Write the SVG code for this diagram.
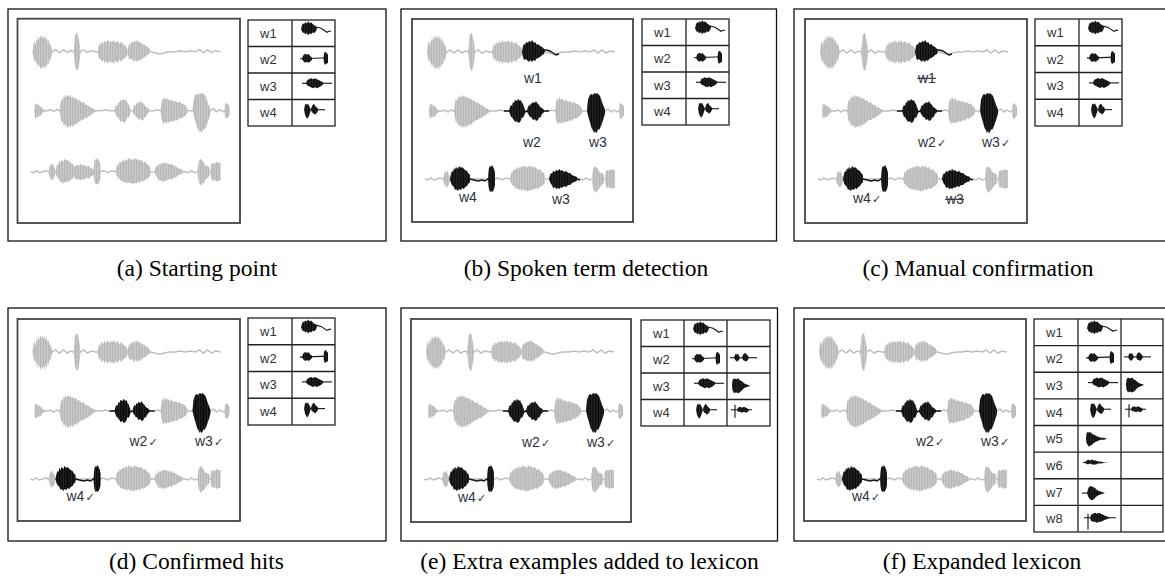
<svg xmlns="http://www.w3.org/2000/svg" xmlns:xlink="http://www.w3.org/1999/xlink" width="1165" height="576" viewBox="0 0 1165 576">
<style>
.outer{fill:none;stroke:#111;stroke-width:1.3}
.inner{fill:#fff;stroke:#444;stroke-width:1.8}
.tbl{fill:#fff;stroke:#222;stroke-width:1.3}
.tl{stroke:#222;stroke-width:1.3}
.lab{font-family:"Liberation Sans",Arial,sans-serif;font-size:13px;fill:#333}
.wl{font-family:"Liberation Sans",Arial,sans-serif;font-size:14px;fill:#2e3340}
.ck{font-family:"DejaVu Sans",sans-serif;font-size:11px}
.cap{font-family:"Liberation Serif","Times New Roman",serif;font-size:23.5px;fill:#000;text-anchor:middle}
.st{stroke:#2e3340;stroke-width:1.2}
.gl{fill:none;stroke:#bfbfbf;stroke-width:1.5}
.kl{fill:none;stroke:#141414;stroke-width:1.5}
.kl1{fill:none;stroke:#141414;stroke-width:1.1}
</style>
<defs>
<filter id="soft" x="-5%" y="-5%" width="110%" height="110%"><feGaussianBlur stdDeviation="0.45"/></filter>
<pattern id="pg" width="1.6" height="4" patternUnits="userSpaceOnUse"><rect width="1.6" height="4" fill="#cbcbcb"/><rect width="0.8" height="4" fill="#b5b5b5"/></pattern>
<pattern id="pk" width="1.6" height="4" patternUnits="userSpaceOnUse"><rect width="1.6" height="4" fill="#2c2c2c"/><rect width="0.9" height="4" fill="#050505"/></pattern>
<path id="s_r1a" d="M15,33 L16,25 17,22 18,27 19,19 20,23 21,17 22,21 23,16 24,19 25,17 26,20 27,16 28,21 29,18 30,23 31,21 32,26 33,25 34,29 35,33 34,37 33,42 32,40 31,46 30,44 29,49 28,46 27,51 26,47 25,50 24,48 23,51 22,46 21,49 20,44 19,47 18,41 17,43 16,39 Z"/>
<path id="s_r1b" d="M56,33 L57,24 57.5,17 58.5,15 59.5,14 60.5,16 61.5,21 62.5,27 63,33 62.5,40 61.5,46 60.5,51 59.5,52 58.5,50 57.5,47 57,41 Z"/>
<path id="s_r1c" d="M80,33 L81,28 82,25 83,27 84,23 86,25 87,22 89,24 90,21 92,24 93,22 95,23 96,21 98,24 100,22 102,25 104,23 106,26 108,27 110,30 110,36 108,39 106,40 104,43 102,41 100,44 98,42 96,45 95,43 93,44 92,42 90,45 89,42 87,44 86,41 84,43 83,39 82,41 81,38 Z"/>
<path id="s_w1" d="M110,33 L111,27 112,25 113,26 114,23 116,24 117,22 119,23 120,21 122,24 123,23 125,26 126,25 128,27 130,28 132,30 133,32 132,35 130,36 128,38 126,39 124,40 123,42 121,41 120,43 118,41 117,43 115,41 114,40 112,41 111,38 Z"/>
<path id="s_r2a" d="M17,90 L17.5,84 18,82 19,84 20,83 21,85 22,84 23,86 24,86 25,88 27,89 27,91 25,92 24,94 23,95 22,96 21,95 20,97 19,96 18,98 17.5,96 Z"/>
<path id="s_r2b" d="M42,90 L43,82 44,78 45,80 46,75 47,77 48,74 49,77 50,74 52,76 53,74 54,77 56,76 57,78 59,77 60,80 62,79 64,82 66,81 68,84 70,84 72,86 74,87 76,88 78,89 78,91 76,92 74,94 72,95 70,97 68,97 66,99 64,99 62,101 60,102 59,104 57,103 56,106 54,104 53,107 52,105 50,107 49,104 48,106 47,103 46,105 45,100 44,102 43,97 Z"/>
<path id="s_w2a" d="M97,90 L98,86 99,84 100,85 101,81 102,82 103,79 105,80 106,78 108,80 109,79 110,82 111,83 112,86 113,89 113,92 112,95 111,97 110,96 109,99 108,101 106,102 105,100 103,101 102,99 101,98 100,96 99,96 98,93 Z"/>
<path id="s_w2b" d="M115,90 L116,86 117,84 118,85 119,82 120,83 121,81 123,82 124,80 125,82 126,83 127,84 128,86 130,87 132,89 132,91 130,93 129,95 128,97 127,96 126,99 124,100 123,98 121,99 120,97 119,96 118,96 117,94 116,93 Z"/>
<path id="s_r2c" d="M143,90 L144,82 145,77 146,80 147,76 149,79 150,77 152,80 154,79 156,81 158,80 160,82 162,81 164,83 166,83 168,85 170,88 170,92 168,95 166,96 164,98 162,97 160,100 158,99 156,101 154,100 152,102 150,101 149,103 147,101 146,104 145,101 144,98 Z"/>
<path id="s_w3" d="M175,90 L175.5,84 176,79 177,76 178,74 179,73 181,74 182,72 184,73 185,72 187,74 188,75 189,78 190,81 191,84 192,86 193,89 193,92 192,96 191,99 190,102 189,105 188,107 187,109 186,108 185,111 184,112 183,110 182,112 181,109 180,108 179,105 178,101 177,98 176,94 Z"/>
<path id="s_r2d" d="M207,90 L207.5,84 208.5,82 210,83 211,84 212,86 212,94 211,96 210,97 208.5,98 207.5,96 Z"/>
<path id="s_r3a" d="M31,160 L32,155 33,152 34,154 35,151 36,154 37,156 38,158 38,162 37,165 36,168 35,167 34,169 33,166 32,165 Z"/>
<path id="s_r3x" d="M56,160 L57,155 59,153 61,154 63,152 65,154 67,153 69,155 71,154 73,156 75,157 77,159 77,162 75,164 73,165 71,167 69,166 67,168 65,167 63,169 61,167 59,168 57,166 Z"/>
<path id="s_w4a" d="M38,160 L39,155 40,152 41,153 42,149 43,151 44,148 46,150 47,147 49,149 50,148 52,150 53,151 55,152 56,154 58,156 58,163 56,165 55,167 53,168 52,170 50,169 49,171 47,170 46,172 44,170 43,171 42,168 41,167 40,166 39,164 Z"/>
<path id="s_w4b" d="M76,160 L76.5,153 77,149 78,147 79,148 80,146 81,148 82,150 83,154 83,166 82,170 81,172 80,173 79,172 78,173 77,170 76.5,167 Z"/>
<path id="s_r3b" d="M98,160 L99,155 100,152 101,153 102,150 104,151 105,148 107,150 108,147 110,149 111,146 113,148 114,147 116,149 117,146 119,148 120,147 122,149 124,148 126,151 128,150 130,153 132,154 133,157 133,163 132,165 130,167 128,168 126,170 124,169 122,171 120,170 119,172 117,171 116,173 114,171 113,172 111,170 110,172 108,170 107,171 105,169 104,170 102,167 101,167 100,165 99,164 Z"/>
<path id="s_w3b" d="M137,160 L138,156 139,154 140,155 141,152 143,153 144,151 146,152 147,150 149,152 150,151 152,153 154,152 156,154 158,154 160,156 162,157 165,158 165,162 162,163 160,164 158,166 156,166 154,168 152,167 150,169 149,168 147,170 146,169 144,170 143,168 141,169 140,166 139,165 138,163 Z"/>
<path id="s_r3c" d="M180,160 L180.5,154 181,150 182,148 183,147 184,149 185,148 186,151 187,152 188,154 190,154 192,156 192,164 190,166 188,168 187,170 186,172 185,171 184,174 183,173 182,172 181,169 180.5,165 Z"/>
<path id="s_r3d" d="M193,160 L193.5,155 194,152 195,151 197,152 199,150 201,151 203,151 203,169 201,169 199,170 197,168 195,169 194,167 193.5,165 Z"/>

<g id="r1g" fill="url(#pg)"><path class="gl" d="M15,33 L35,33 38,31 42,34 46,31 50,34 53,32 56,33 63,33 66,31 70,34 74,32 78,33 80,33 110,33 129,33 133,33 137,34 141,35 144,35 147,34 152,33 158,33 163,32 168,33 173,32 178,33 182,31 186,34 190,31 194,34 198,32 203,33"/><use href="#s_r1a"/><use href="#s_r1b"/><use href="#s_r1c"/><use href="#s_w1"/></g>
<g id="r1k" fill="url(#pk)"><use href="#s_w1"/><path class="kl" d="M130,31 L134,31 138,32 141,34 144,36 147,35"/></g>
<g id="r2g" transform="translate(0,2)" fill="url(#pg)"><path class="gl" d="M17,90 L30,90 33,89 36,91 39,89 42,90 78,90 84,90 88,89 92,90 137,90 140,89 143,90 175,90 193,90 196,88 199,91 202,89 205,91 207,90 212,90"/><use href="#s_r2a"/><use href="#s_r2b"/><use href="#s_w2a"/><use href="#s_w2b"/><use href="#s_r2c"/><use href="#s_w3"/><use href="#s_r2d"/></g>
<g id="r2k2" transform="translate(0,2)" fill="url(#pk)"><path class="kl" d="M92,90 L97,90 113,91 115,90 132,90 137,90"/><use href="#s_w2a"/><use href="#s_w2b"/></g>
<g id="r2k3" transform="translate(0,2)" fill="url(#pk)"><use href="#s_w3"/></g>
<g id="r3g" fill="url(#pg)"><path class="gl" d="M13,160 L16,161 19,159 22,161 25,160 28,159 31,160 83,160 86,159 90,161 94,159 98,160 137,160 168,160 171,161 174,159 177,161 180,160 203,160"/><use href="#s_r3a"/><use href="#s_w4a"/><use href="#s_w4b"/><use href="#s_r3b"/><use href="#s_w3b"/><use href="#s_r3c"/><use href="#s_r3d"/></g>
<g id="r3k4" fill="url(#pk)"><path class="kl" d="M38,160 L58,160 62,161 66,162 70,161 73,162 76,160 83,160"/><use href="#s_w4a"/><use href="#s_w4b"/></g>
<g id="r3k3" fill="url(#pk)"><path class="kl" d="M137,160 L165,160 168,161"/><use href="#s_w3b"/></g>

<g id="lw1" fill="url(#pk)"><path d="M9,-4 L10,-8 11,-10 12,-9 13,-11 15,-10 16,-12 18,-10 19,-11 21,-9 22,-8 24,-7 25,-5 24,-2 22,0 21,-1 19,1 18,0 16,2 15,0 13,1 12,-1 11,0 10,-2 Z"/><path class="kl1" d="M21,-6 L25,-6 29,-5 32,-3 35,-1 37,-2 39,-2"/></g>
<g id="lw2" fill="url(#pk)"><path class="kl1" d="M8,-1 L36,-2"/><path d="M10,-1 L11,-4 12,-5 13,-6 15,-5 16,-6 18,-4 20,-2 20,0 18,2 16,3 15,2 13,3 12,2 11,1 Z"/><path d="M31.5,-1 L32,-6 33,-8 34.5,-7 36,-5 36,3 34.5,4 33,5 32,3 Z"/></g>
<g id="lw3" fill="url(#pk)"><path class="kl1" d="M10,-3 L40,-3"/><path d="M14,-3 L15,-6 17,-7 19,-8 21,-7 23,-8 25,-7 27,-6 29,-5 31,-4 31,-2 29,0 27,1 25,2 23,1 21,2 19,1 17,0 15,-1 Z"/></g>
<g id="lw4" fill="url(#pk)"><path d="M12,-3 L13,-8 14,-9 15,-8 16,-9 17,-7 18,-5 19,-3 18,0 17,3 16,5 15,6 14,4 13,2 Z"/><path d="M19,-3 L20,-7 21,-8 22,-9 23,-7 24,-6 25,-5 26,-4 26,-2 25,0 24,1 23,2 22,1 21,0 20,0 Z"/><path class="kl1" d="M25,-3 L33,-3"/></g>
<g id="lw2b" fill="url(#pk)"><path class="kl1" d="M3,-2 L30,-2"/><path d="M7,-2 L8,-5 9,-6 10,-5 11,-6 12,-4 13,-2 12,0 11,1 10,2 9,1 8,0 Z"/><path d="M15,-2 L16,-5 17,-6 18,-7 19,-6 20,-5 21,-4 22,-2 21,0 20,1 19,2 18,1 17,1 16,0 Z"/></g>
<g id="lw3b" fill="url(#pk)"><path d="M5,-1 L5.5,-6 7,-8 9,-7 11,-8 13,-6 15,-5 17,-3 19,-2 22,-1 23,-1 22,0 19,1 17,2 15,4 13,6 11,7 9,6 7,7 5.5,4 Z"/></g>
<g id="lw4b" fill="url(#pk)"><path class="kl1" d="M4,-3 L25,-3 M8,-8 L8,5"/><path d="M10,-3 L11,-5 13,-6 15,-5 17,-6 19,-5 21,-4 22,-3 21,-1 19,0 17,-1 15,0 13,-1 11,-1 Z"/></g>
<g id="lw5" fill="url(#pk)"><path d="M8,0 L8.5,-5 9.5,-7 11,-6 12,-7 14,-5 16,-4 18,-3 20,-2 23,-1 26,-1 29,0 26,1 23,1 20,2 18,3 16,4 14,6 12,7 11,8 9.5,6 8.5,4 Z"/></g>
<g id="lw6" fill="url(#pk)"><path d="M4,-3 L8,-4 10,-6 12,-5 14,-6 16,-5 18,-5 20,-4 23,-4 26,-3 31,-3 26,-2.5 23,-2 20,-2 18,-1 16,-1 14,-1 12,-2 10,-1 8,-2 Z"/></g>
<g id="lw7" fill="url(#pk)"><path class="kl1" d="M4,1 L11,1"/><path d="M9,1 L10,-3 11,-5 13,-6 15,-5 17,-4 19,-2 21,-1 24,0 27,1 24,2 21,3 19,4 17,6 15,8 13,8 11,6 10,4 Z"/></g>
<g id="lw8" fill="url(#pk)"><path class="kl1" d="M6,-1 L38,-1 M10,-5 L10,11"/><path d="M12,-1 L13,-4 15,-5 17,-6 19,-5 21,-6 23,-5 25,-4 27,-3 30,-2 32,-1 30,0 27,1 25,2 23,3 21,3 19,4 17,3 15,3 13,2 Z"/></g>
</defs>

<rect width="1165" height="576" fill="#fff"/>

<!-- (a) -->
<g id="panel-a">
<rect class="outer" x="8" y="9" width="378" height="232"/>
<rect class="inner" x="17.5" y="18.7" width="222.5" height="204.3"/>
<g transform="translate(17.5,18.7)" filter="url(#soft)"><use href="#r1g"/><use href="#r2g"/><use href="#r3g" y="-7"/><use href="#s_r3x" y="-7" fill="url(#pg)"/></g>
<g id="lex-a">
<rect class="tbl" x="248" y="20" width="87" height="106"/>
<path class="tl" d="M292,20 V126 M248,46.5 H335 M248,73 H335 M248,99.5 H335"/>
<g class="lab"><text x="260" y="37.8">w1</text><text x="260" y="64.3">w2</text><text x="260" y="90.8">w3</text><text x="260" y="117.3">w4</text></g>
<g filter="url(#soft)"><use href="#lw1" x="292" y="33.25"/><use href="#lw2" x="292" y="59.75"/><use href="#lw3" x="292" y="86.25"/><use href="#lw4" x="292" y="112.75"/></g>
</g>
<text class="cap" x="197" y="276">(a) Starting point</text>
</g>

<!-- (b) -->
<g id="panel-b">
<rect class="outer" x="401" y="9" width="375.5" height="232"/>
<rect class="inner" x="412" y="19" width="221" height="203"/>
<g transform="translate(412,19)" filter="url(#soft)"><use href="#r1g"/><use href="#r2g"/><use href="#r3g"/><use href="#r1k"/><use href="#r2k2"/><use href="#r2k3"/><use href="#r3k4"/><use href="#r3k3"/></g>
<g class="wl" transform="translate(412,19)"><text x="112" y="64">w1</text><text x="111" y="128">w2</text><text x="177" y="128">w3</text><text x="47" y="183">w4</text><text x="140" y="185">w3</text></g>
<g id="lex-b">
<rect class="tbl" x="642" y="19" width="87" height="106"/>
<path class="tl" d="M686,19 V125 M642,45.5 H729 M642,72 H729 M642,98.5 H729"/>
<g class="lab"><text x="654" y="36.8">w1</text><text x="654" y="63.3">w2</text><text x="654" y="89.8">w3</text><text x="654" y="116.3">w4</text></g>
<g filter="url(#soft)"><use href="#lw1" x="686" y="32.25"/><use href="#lw2" x="686" y="58.75"/><use href="#lw3" x="686" y="85.25"/><use href="#lw4" x="686" y="111.75"/></g>
</g>
<text class="cap" x="586" y="276">(b) Spoken term detection</text>
</g>

<!-- (c) -->
<g id="panel-c">
<rect class="outer" x="794" y="9" width="380" height="232"/>
<rect class="inner" x="805" y="19" width="222" height="204"/>
<g transform="translate(805,19)" filter="url(#soft)"><use href="#r1g"/><use href="#r2g"/><use href="#r3g"/><use href="#r1k"/><use href="#r2k2"/><use href="#r2k3"/><use href="#r3k4"/><use href="#r3k3"/></g>
<g class="wl" transform="translate(805,19)">
<text x="113" y="64">w1</text><line class="st" x1="112" y1="59.3" x2="131" y2="59.3"/>
<text x="113" y="128">w2<tspan class="ck" dx="1">✓</tspan></text>
<text x="177" y="128">w3<tspan class="ck" dx="1">✓</tspan></text>
<text x="48" y="184">w4<tspan class="ck" dx="1">✓</tspan></text>
<text x="141" y="185">w3</text><line class="st" x1="140" y1="180.3" x2="159" y2="180.3"/>
</g>
<g id="lex-c">
<rect class="tbl" x="1035" y="19" width="87" height="107"/>
<path class="tl" d="M1079,19 V126 M1035,45.75 H1122 M1035,72.5 H1122 M1035,99.25 H1122"/>
<g class="lab"><text x="1047" y="36.9">w1</text><text x="1047" y="63.6">w2</text><text x="1047" y="90.4">w3</text><text x="1047" y="117.1">w4</text></g>
<g filter="url(#soft)"><use href="#lw1" x="1079" y="32.4"/><use href="#lw2" x="1079" y="59.1"/><use href="#lw3" x="1079" y="85.9"/><use href="#lw4" x="1079" y="112.6"/></g>
</g>
<text class="cap" x="978" y="276">(c) Manual confirmation</text>
</g>

<!-- (d) -->
<g id="panel-d">
<rect class="outer" x="8" y="308" width="378" height="233"/>
<rect class="inner" x="17.5" y="319" width="222.5" height="202"/>
<g transform="translate(17.5,319)" filter="url(#soft)"><use href="#r1g"/><use href="#r2g"/><use href="#r3g"/><use href="#r2k2"/><use href="#r2k3"/><use href="#r3k4"/></g>
<g class="wl" transform="translate(17.5,319)">
<text x="112" y="127">w2<tspan class="ck" dx="1">✓</tspan></text>
<text x="177.5" y="127">w3<tspan class="ck" dx="1">✓</tspan></text>
<text x="49" y="182">w4<tspan class="ck" dx="1">✓</tspan></text>
</g>
<g id="lex-d">
<rect class="tbl" x="248" y="318" width="87" height="107"/>
<path class="tl" d="M292,318 V425 M248,344.75 H335 M248,371.5 H335 M248,398.25 H335"/>
<g class="lab"><text x="260" y="335.9">w1</text><text x="260" y="362.6">w2</text><text x="260" y="389.4">w3</text><text x="260" y="416.1">w4</text></g>
<g filter="url(#soft)"><use href="#lw1" x="292" y="331.4"/><use href="#lw2" x="292" y="358.1"/><use href="#lw3" x="292" y="384.9"/><use href="#lw4" x="292" y="411.6"/></g>
</g>
<text class="cap" x="196.5" y="569">(d) Confirmed hits</text>
</g>

<!-- (e) -->
<g id="panel-e">
<rect class="outer" x="401" y="308" width="376.5" height="233"/>
<rect class="inner" x="411" y="319" width="220" height="203"/>
<g transform="translate(411,319)" filter="url(#soft)"><use href="#r1g"/><use href="#r2g"/><use href="#r3g"/><use href="#r2k2"/><use href="#r2k3"/><use href="#r3k4"/></g>
<g class="wl" transform="translate(411,319)">
<text x="111" y="128">w2<tspan class="ck" dx="1">✓</tspan></text>
<text x="176" y="128">w3<tspan class="ck" dx="1">✓</tspan></text>
<text x="47" y="183">w4<tspan class="ck" dx="1">✓</tspan></text>
</g>
<g id="lex-e">
<rect class="tbl" x="641" y="320" width="129" height="106"/>
<path class="tl" d="M684,320 V426 M727,320 V426 M641,346.5 H770 M641,373 H770 M641,399.5 H770"/>
<g class="lab"><text x="653" y="337.8">w1</text><text x="653" y="364.3">w2</text><text x="653" y="390.8">w3</text><text x="653" y="417.3">w4</text></g>
<g filter="url(#soft)"><use href="#lw1" x="684" y="333.25"/><use href="#lw2" x="684" y="359.75"/><use href="#lw3" x="684" y="386.25"/><use href="#lw4" x="684" y="412.75"/>
<use href="#lw2b" x="727" y="359.75"/><use href="#lw3b" x="727" y="386.25"/><use href="#lw4b" x="727" y="412.75"/></g>
</g>
<text class="cap" x="589.5" y="569">(e) Extra examples added to lexicon</text>
</g>

<!-- (f) -->
<g id="panel-f">
<rect class="outer" x="794" y="308" width="380" height="233"/>
<rect class="inner" x="804" y="319" width="222" height="202"/>
<g transform="translate(804,319)" filter="url(#soft)"><use href="#r1g"/><use href="#r2g"/><use href="#r3g"/><use href="#r2k2"/><use href="#r2k3"/><use href="#r3k4"/></g>
<g class="wl" transform="translate(804,319)">
<text x="112" y="127">w2<tspan class="ck" dx="1">✓</tspan></text>
<text x="177" y="127">w3<tspan class="ck" dx="1">✓</tspan></text>
<text x="48" y="182">w4<tspan class="ck" dx="1">✓</tspan></text>
</g>
<g id="lex-f">
<rect class="tbl" x="1034" y="319" width="129" height="213"/>
<path class="tl" d="M1078,319 V532 M1121,319 V532 M1034,345.6 H1163 M1034,372.25 H1163 M1034,398.9 H1163 M1034,425.5 H1163 M1034,452.1 H1163 M1034,478.75 H1163 M1034,505.4 H1163"/>
<g class="lab"><text x="1046" y="336.8">w1</text><text x="1046" y="363.4">w2</text><text x="1046" y="390.1">w3</text><text x="1046" y="416.7">w4</text><text x="1046" y="443.3">w5</text><text x="1046" y="469.9">w6</text><text x="1046" y="496.6">w7</text><text x="1046" y="523.2">w8</text></g>
<g filter="url(#soft)"><use href="#lw1" x="1078" y="332.3"/><use href="#lw2" x="1078" y="358.9"/><use href="#lw3" x="1078" y="385.6"/><use href="#lw4" x="1078" y="412.2"/>
<use href="#lw2b" x="1121" y="358.9"/><use href="#lw3b" x="1121" y="385.6"/><use href="#lw4b" x="1121" y="412.2"/>
<use href="#lw5" x="1078" y="438.8"/><use href="#lw6" x="1078" y="465.4"/><use href="#lw7" x="1078" y="492.1"/><use href="#lw8" x="1078" y="518.7"/></g>
</g>
<text class="cap" x="982" y="569">(f) Expanded lexicon</text>
</g>
</svg>
